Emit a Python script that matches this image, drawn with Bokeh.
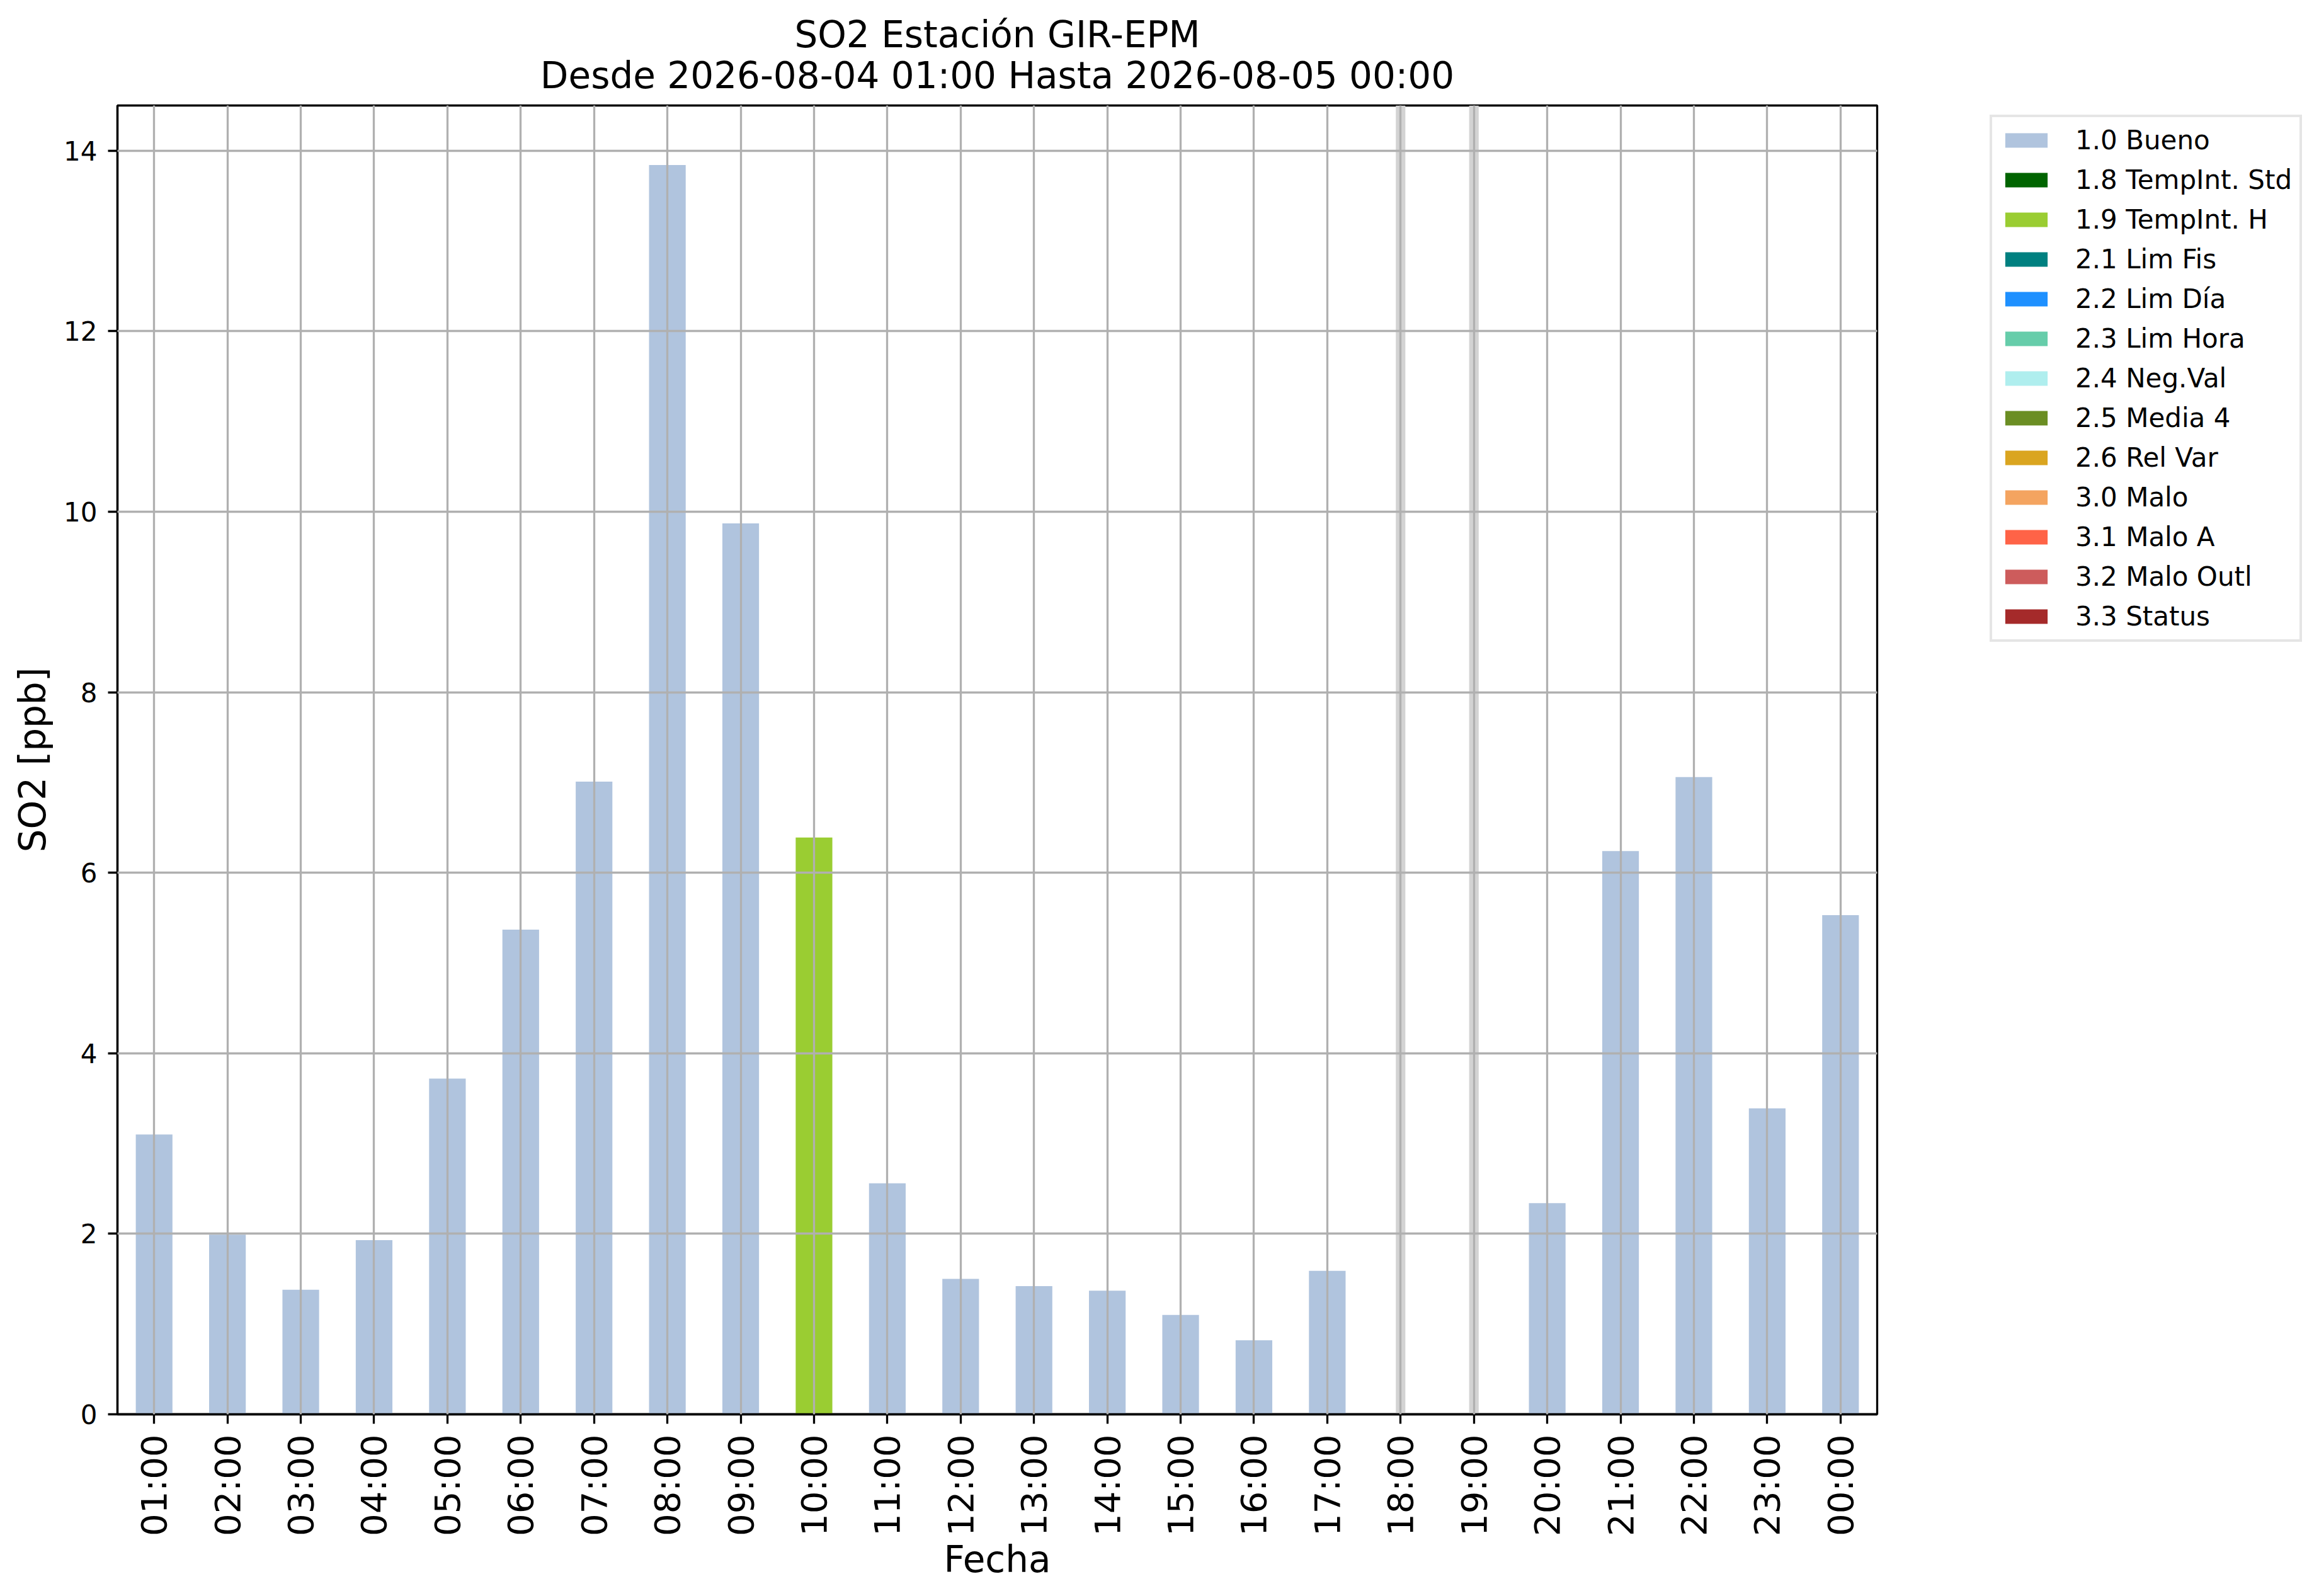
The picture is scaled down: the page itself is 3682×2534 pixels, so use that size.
import math
from bokeh.plotting import figure
from bokeh.layouts import row
from bokeh.models import (ColumnDataSource, FactorRange, Range1d, Legend, LegendItem,
                          Title, FixedTicker)
from bokeh.embed import file_html
from bokeh.resources import INLINE

# ---------------- data ----------------
hours = ["01:00", "02:00", "03:00", "04:00", "05:00", "06:00", "07:00", "08:00",
         "09:00", "10:00", "11:00", "12:00", "13:00", "14:00", "15:00", "16:00",
         "17:00", "18:00", "19:00", "20:00", "21:00", "22:00", "23:00", "00:00"]
so2_values = [3.10, 1.99, 1.38, 1.93, 3.72, 5.37, 7.01, 13.84, 9.87, 6.39, 2.56, 1.50,
              1.42, 1.37, 1.10, 0.82, 1.59, None, None, 2.34, 6.24, 7.06, 3.39, 5.53]
hour_flags = ["1.0 Bueno"] * 9 + ["1.9 TempInt. H"] + ["1.0 Bueno"] * 7 + [None, None] + ["1.0 Bueno"] * 5

flag_labels = ["1.0 Bueno", "1.8 TempInt. Std", "1.9 TempInt. H", "2.1 Lim Fis",
               "2.2 Lim Día", "2.3 Lim Hora", "2.4 Neg.Val", "2.5 Media 4",
               "2.6 Rel Var", "3.0 Malo", "3.1 Malo A", "3.2 Malo Outl", "3.3 Status"]
flag_colors = ["#b0c4de", "#006400", "#9acd32", "#008080", "#1e90ff", "#66cdaa",
               "#afeeee", "#6b8e23", "#daa520", "#f4a460", "#ff6347", "#cd5c5c", "#a52a2a"]

y_ticks = [0, 2, 4, 6, 8, 10, 12, 14]
y_max = 14.5

title_line1 = "SO2 Estación GIR-EPM"
title_line2 = "Desde 2026-08-04 01:00 Hasta 2026-08-05 00:00"
x_label = "Fecha"
y_label = "SO2 [ppb]"

FONT = "DejaVu Sans"
TOTAL_W, TOTAL_H = 3666, 2518
MAIN_W = 3130

# ---------------- main figure ----------------
p = figure(x_range=FactorRange(factors=hours, range_padding=0, factor_padding=0),
           y_range=Range1d(0, y_max),
           width=MAIN_W, height=TOTAL_H,
           output_backend="svg", toolbar_location=None,
           min_border_left=186, min_border_right=150,
           min_border_top=167, min_border_bottom=273)
p.background_fill_color = "white"
p.border_fill_color = "white"
p.outline_line_color = "black"
p.outline_line_width = 3.3

# missing-data bands
missing = [h for h, v in zip(hours, so2_values) if v is None]
miss_src = ColumnDataSource(dict(x=missing, top=[y_max] * len(missing), bottom=[0] * len(missing)))
p.vbar(x="x", top="top", bottom="bottom", width=0.13, source=miss_src,
       fill_color="#d3d3d3", line_color=None)

# bars by flag
for lab, col in zip(flag_labels, flag_colors):
    xs = [h for h, v, f in zip(hours, so2_values, hour_flags) if v is not None and f == lab]
    ys = [v for h, v, f in zip(hours, so2_values, hour_flags) if v is not None and f == lab]
    if xs:
        src = ColumnDataSource(dict(x=xs, top=ys))
        p.vbar(x="x", top="top", bottom=0, width=0.5, source=src,
               fill_color=col, line_color=None)

# grid (drawn above bars as in reference)
for g in (p.xgrid, p.ygrid):
    g.grid_line_color = "#b0b0b0"
    g.grid_line_width = 3.3
    g.level = "overlay"

# axes
p.yaxis.ticker = FixedTicker(ticks=y_ticks)
for ax in (p.xaxis, p.yaxis):
    ax.axis_line_color = "black"
    ax.axis_line_width = 3.3
    ax.major_tick_line_color = "black"
    ax.major_tick_line_width = 3.3
    ax.major_tick_out = 15
    ax.major_tick_in = 0
    ax.minor_tick_line_color = None
    ax.major_label_text_font = FONT
    ax.major_label_text_color = "black"
    ax.major_label_standoff = 17
    ax.axis_label_text_font = FONT
    ax.axis_label_text_font_style = "normal"
    ax.axis_label_text_color = "black"
    ax.axis_label_text_font_size = "58px"

p.xaxis.major_label_text_font_size = "56px"
p.xaxis.major_label_orientation = math.pi / 2
p.xaxis.axis_label = x_label
p.xaxis.axis_label_standoff = 0

p.yaxis.major_label_text_font_size = "42px"
p.yaxis.axis_label = y_label
p.yaxis.axis_label_standoff = 12

# titles (later added = on top)
t2 = Title(text=title_line2, align="center", text_font=FONT, text_font_size="58px",
           text_font_style="normal", text_color="black", standoff=27)
t1 = Title(text=title_line1, align="center", text_font=FONT, text_font_size="58px",
           text_font_style="normal", text_color="black", standoff=-37)
p.add_layout(t2, "above")
p.add_layout(t1, "above")

# ---------------- legend panel ----------------
q = figure(width=TOTAL_W - MAIN_W, height=TOTAL_H, x_range=(0, 1), y_range=(0, 1),
           output_backend="svg", toolbar_location=None, min_border=0,
           x_axis_location=None, y_axis_location=None)
q.outline_line_color = None
q.background_fill_color = "white"
q.border_fill_color = "white"
q.grid.visible = False

items = []
for lab, col in zip(flag_labels, flag_colors):
    src = ColumnDataSource(dict(x=[0.5], top=[0.5], bottom=[0.5]))
    r = q.vbar(x="x", top="top", bottom="bottom", width=0.01, source=src,
               fill_color=col, line_color=None)
    items.append(LegendItem(label=lab, renderers=[r]))

legend = Legend(items=items, location=(29, 1226))
legend.label_text_font = FONT
legend.label_text_font_size = "42px"
legend.label_text_color = "black"
legend.glyph_width = 84
legend.glyph_height = 29
legend.label_height = 49
legend.label_standoff = 36
legend.spacing = 14
legend.padding = 12
legend.margin = 0
legend.border_line_color = "#cccccc"
legend.border_line_width = 4
legend.background_fill_color = "white"
legend.background_fill_alpha = 1.0
q.add_layout(legend)

layout = row(p, q)
open("out.html", "w").write(file_html(layout, INLINE))
